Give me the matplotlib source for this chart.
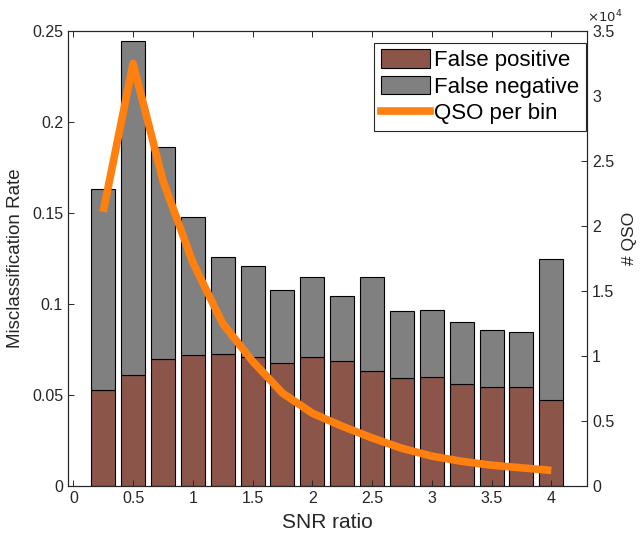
import matplotlib.pyplot as plt
from matplotlib.patches import Patch
from matplotlib.lines import Line2D

plt.rcParams['font.family'] = ['Liberation Sans', 'DejaVu Sans']

### data
snr = [0.25, 0.5, 0.75, 1.0, 1.25, 1.5, 1.75, 2.0,
       2.25, 2.5, 2.75, 3.0, 3.25, 3.5, 3.75, 4.0]
false_pos = [0.0529, 0.0612, 0.0700, 0.0720, 0.0728, 0.0711, 0.0678, 0.0709,
             0.0689, 0.0630, 0.0594, 0.0599, 0.0559, 0.0546, 0.0546, 0.0474]
total_rate = [0.163, 0.2444, 0.186, 0.1476, 0.1259, 0.1207, 0.1075, 0.1150,
              0.1044, 0.1148, 0.0961, 0.0968, 0.0900, 0.0856, 0.0847, 0.1246]
false_neg = [t - f for t, f in zip(total_rate, false_pos)]
qso_per_bin = [21100, 32500, 23500, 17200, 12500, 9600, 7150, 5600,
               4600, 3700, 2900, 2300, 1900, 1600, 1400, 1200]

brown = '#8c554a'
gray = '#808080'
orange = '#ff800e'
tick_col = '#262626'

fig = plt.figure(figsize=(6.41, 5.39), dpi=100)
ax = fig.add_axes([0.106, 0.0983, 0.81, 0.8442])

ax.bar(snr, false_pos, width=0.2, color=brown, edgecolor='black', linewidth=0.8)
ax.bar(snr, false_neg, width=0.2, bottom=false_pos, color=gray,
       edgecolor='black', linewidth=0.8)
ax.set_xlim(-0.045, 4.3)
ax.set_ylim(0, 0.25)
ax.set_xticks([0, 0.5, 1, 1.5, 2, 2.5, 3, 3.5, 4])
ax.set_xticklabels(['0', '0.5', '1', '1.5', '2', '2.5', '3', '3.5', '4'])
ax.set_yticks([0, 0.05, 0.1, 0.15, 0.2, 0.25])
ax.set_yticklabels(['0', '0.05', '0.1', '0.15', '0.2', '0.25'])
ax.tick_params(direction='in', top=True, labelsize=11.5, colors=tick_col,
               length=4, width=0.7)
ax.set_xlabel('SNR ratio', fontsize=15, color=tick_col, labelpad=5)
ax.set_ylabel('Misclassification Rate', fontsize=13.5, color=tick_col, labelpad=6)

ax2 = ax.twinx()
ax2.plot(snr, qso_per_bin, color=orange, linewidth=5.5, solid_capstyle='butt')
ax2.set_ylim(0, 35000)
ax2.set_yticks([0, 5000, 10000, 15000, 20000, 25000, 30000, 35000])
ax2.set_yticklabels(['0', '0.5', '1', '1.5', '2', '2.5', '3', '3.5'])
ax2.tick_params(direction='in', labelsize=11.5, colors=tick_col, length=4, width=0.7)
ax2.text(1.081, 0.545, '# QSO', transform=ax2.transAxes, fontsize=12.5,
         color=tick_col, rotation=90, ha='center', va='center')
ax2.text(1.0, 1.012, r'$\times10^4$', transform=ax2.transAxes, fontsize=9.5,
         color=tick_col, ha='left', va='bottom')
for a in (ax, ax2):
    for s in a.spines.values():
        s.set_color(tick_col)
        s.set_linewidth(0.8)

handles = [Patch(facecolor=brown, edgecolor='black', linewidth=0.8),
           Patch(facecolor=gray, edgecolor='black', linewidth=0.8),
           Line2D([0], [0], color=orange, linewidth=5.5)]
leg = ax2.legend(handles, ['False positive', 'False negative', 'QSO per bin'],
                 loc='upper right', bbox_to_anchor=(0.998, 0.974),
                 fontsize=16, fancybox=False, edgecolor=tick_col, framealpha=1,
                 borderaxespad=0, handlelength=2.2, handleheight=0.9,
                 handletextpad=0.2, labelspacing=0.2, borderpad=0.3)
leg.get_frame().set_linewidth(0.8)

plt.savefig('out.png', dpi=100)
